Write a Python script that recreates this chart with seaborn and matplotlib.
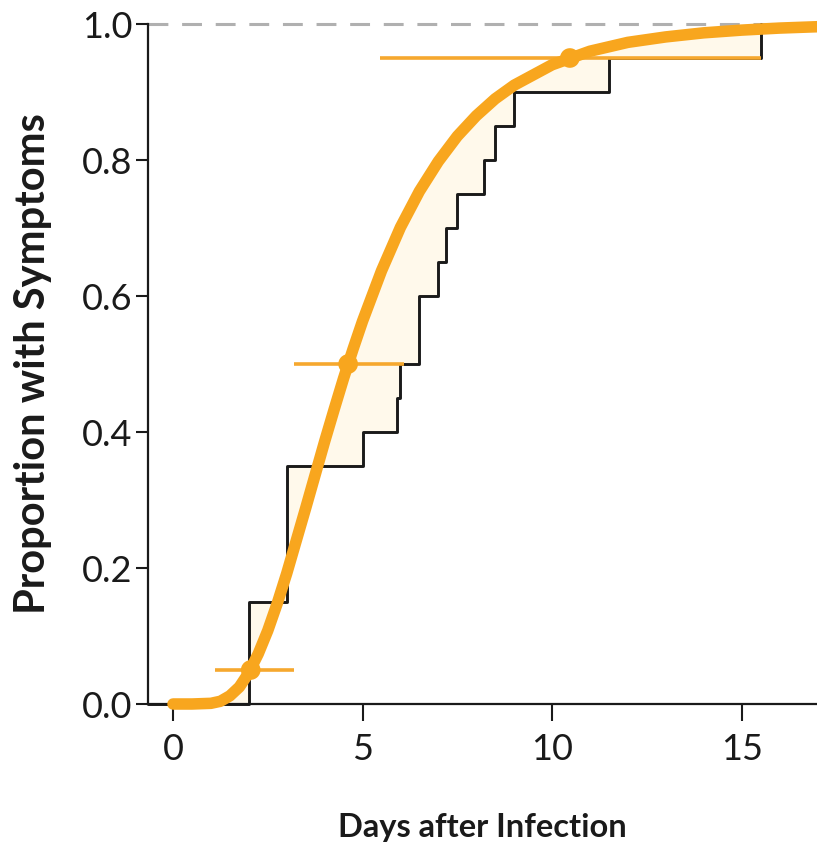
import numpy as np
import pandas as pd
import matplotlib
matplotlib.use("Agg")
import matplotlib.pyplot as plt
from matplotlib import font_manager
import seaborn as sns

# ---------------- data ----------------
# observed cumulative proportion with symptoms (step function)
onset_days = [2.0, 3.0, 5.0, 5.9, 6.0, 6.5, 7.0, 7.2, 7.5, 8.2, 8.5, 9.0, 11.5, 15.5]
cum_prop = [0.15, 0.35, 0.40, 0.45, 0.50, 0.60, 0.65, 0.70, 0.75, 0.80, 0.85, 0.90, 0.95, 1.00]

# fitted distribution curve
curve_days = [0.0, 0.5, 1.0, 1.25, 1.5, 1.75, 2.0, 2.25, 2.5, 2.75, 3.0, 3.25, 3.5,
              3.75, 4.0, 4.25, 4.5, 4.75, 5.0, 5.5, 6.0, 6.5, 7.0, 7.5, 8.0, 8.5,
              9.0, 10.0, 11.0, 12.0, 13.0, 14.0, 15.0, 16.0, 17.0]
curve_prop = [0.0, 0.0, 0.001, 0.004, 0.012, 0.025, 0.046, 0.074, 0.108, 0.148, 0.192,
              0.240, 0.288, 0.337, 0.386, 0.433, 0.479, 0.522, 0.563, 0.637, 0.701,
              0.754, 0.798, 0.835, 0.865, 0.890, 0.910, 0.940, 0.960, 0.973, 0.981,
              0.987, 0.991, 0.994, 0.996]

# percentile estimates with horizontal intervals
pct_day = [2.05, 4.62, 10.47]
pct_prop = [0.05, 0.50, 0.95]
pct_low = [1.1, 3.2, 5.45]
pct_high = [3.2, 6.1, 15.5]

x_ticks = [0, 5, 10, 15]
y_ticks = [0.0, 0.2, 0.4, 0.6, 0.8, 1.0]
y_tick_labels = ["0.0", "0.2", "0.4", "0.6", "0.8", "1.0"]
x_label = "Days after Infection"
y_label = "Proportion with Symptoms"

# ---------------- style ----------------
sns.set_theme(style="white")
available = {f.name for f in font_manager.fontManager.ttflist}
tick_font = next((f for f in ["Liberation Sans Narrow", "Lato", "Open Sans"] if f in available), "DejaVu Sans")
label_font = next((f for f in ["Lato", "Open Sans"] if f in available), "DejaVu Sans")
plt.rcParams["font.family"] = [tick_font, "DejaVu Sans"]

ORANGE = "#F8A61E"
ORANGE_BAR = "#F6A82E"
INK = "#1a1a1a"

fig = plt.figure(figsize=(8.17, 8.49), dpi=100)
ax = fig.add_axes([148 / 817, 145 / 849, 669 / 817, 680 / 849])
xmin, xmax = -0.66, 16.99
ax.set_xlim(xmin, xmax)
ax.set_ylim(0, 1)

# very light fill between fitted curve and observed steps
step_x = [xmin] + onset_days
step_y = [0.0] + cum_prop
sx, sy = [], []
for i in range(len(step_x)):
    sx.append(step_x[i]); sy.append(step_y[i - 1] if i > 0 else step_y[0])
    sx.append(step_x[i]); sy.append(step_y[i])
poly_x = list(curve_days) + sx[::-1]
poly_y = list(curve_prop) + sy[::-1]
ax.fill(poly_x, poly_y, color="#FFF6DE", alpha=0.6, lw=0, zorder=1)

# dashed reference line at 1.0
ax.axhline(1.0, color="#b0b0b0", lw=2.2, dashes=(6.5, 4.5), zorder=2, clip_on=False)

# observed step function
df_step = pd.DataFrame({"day": step_x, "prop": step_y})
sns.lineplot(data=df_step, x="day", y="prop", ax=ax, color=INK, lw=2.1,
             drawstyle="steps-post", estimator=None, sort=False, zorder=3)

# horizontal intervals
for lo, hi, p in zip(pct_low, pct_high, pct_prop):
    ax.plot([lo, hi], [p, p], color=ORANGE_BAR, lw=2.6, solid_capstyle="butt", zorder=4)

# fitted curve
df_curve = pd.DataFrame({"day": curve_days, "prop": curve_prop})
sns.lineplot(data=df_curve, x="day", y="prop", ax=ax, color=ORANGE, lw=8.3,
             estimator=None, sort=False, zorder=5)
for l in ax.lines:
    l.set_clip_on(False)
ax.lines[-1].set_solid_capstyle("round")

# percentile points
sns.scatterplot(x=pct_day, y=pct_prop, ax=ax, color=ORANGE, s=200, edgecolor="none",
                zorder=6, clip_on=False)

# axes styling
for s in ["top", "right"]:
    ax.spines[s].set_visible(False)
for s in ["left", "bottom"]:
    ax.spines[s].set_color(INK)
    ax.spines[s].set_linewidth(1.6)
ax.set_xticks(x_ticks)
ax.set_xticklabels([str(t) for t in x_ticks])
ax.set_yticks(y_ticks)
ax.set_yticklabels(y_tick_labels)
ax.tick_params(axis="y", direction="out", length=9, width=1.5, pad=2, labelsize=26,
               colors=INK, left=True)
ax.tick_params(axis="x", direction="out", length=12, width=1.5, pad=9, labelsize=26,
               colors=INK, bottom=True)
ax.set_xlabel(x_label, fontsize=23.5, fontweight="bold", family=[label_font, "DejaVu Sans"],
              color=INK, labelpad=34)
ax.set_ylabel(y_label, fontsize=30, fontweight="bold", family=[label_font, "DejaVu Sans"],
              color=INK, labelpad=22)
ax.grid(False)

fig.savefig("out.png", dpi=100)
